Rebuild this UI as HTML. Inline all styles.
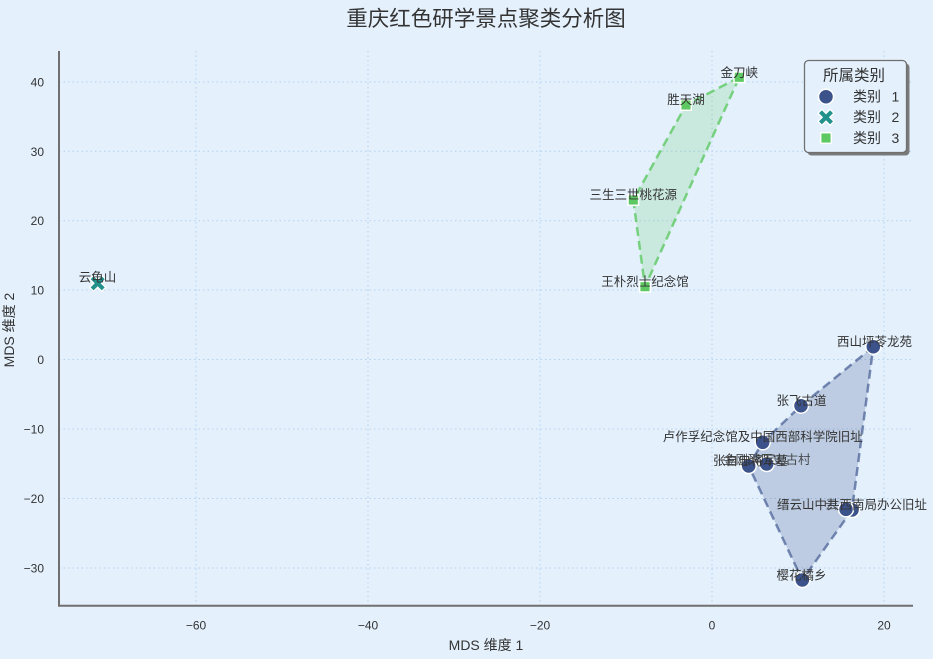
<!DOCTYPE html>
<html>
<head>
<meta charset="utf-8">
<style>
  html, body { margin:0; padding:0; background:#e4f1fd; }
  svg { display:block; }
  text { font-family: "Liberation Sans", "WenQuanYi Zen Hei", "Noto Sans CJK SC", sans-serif; fill:#333; }
  .wq { font-family: "WenQuanYi Zen Hei", "Liberation Sans", sans-serif; }
</style>
</head>
<body>
<svg width="933" height="659" viewBox="0 0 933 659" xmlns="http://www.w3.org/2000/svg">
  <rect x="0" y="0" width="933" height="659" fill="#e4f1fd"/>

  <!-- Title -->
  <text x="486" y="26" font-size="21.5" text-anchor="middle" fill="#333">重庆红色研学景点聚类分析图</text>

  <!-- Grid -->
  <g stroke="#b4d1ee" stroke-width="1" stroke-dasharray="1.5,3">
    <line x1="196" y1="51" x2="196" y2="606"/>
    <line x1="368" y1="51" x2="368" y2="606"/>
    <line x1="540" y1="51" x2="540" y2="606"/>
    <line x1="712" y1="51" x2="712" y2="606"/>
    <line x1="884" y1="51" x2="884" y2="606"/>
    <line x1="59" y1="82" x2="913" y2="82"/>
    <line x1="59" y1="151.3" x2="913" y2="151.3"/>
    <line x1="59" y1="220.7" x2="913" y2="220.7"/>
    <line x1="59" y1="290" x2="913" y2="290"/>
    <line x1="59" y1="359.5" x2="913" y2="359.5"/>
    <line x1="59" y1="429" x2="913" y2="429"/>
    <line x1="59" y1="498.5" x2="913" y2="498.5"/>
    <line x1="59" y1="568" x2="913" y2="568"/>
  </g>

  <!-- Spines -->
  <line x1="59" y1="51" x2="59" y2="606.5" stroke="#707070" stroke-width="2"/>
  <line x1="58" y1="605.7" x2="913" y2="605.7" stroke="#707070" stroke-width="2"/>

  <!-- Y tick labels -->
  <g font-size="12" text-anchor="end">
    <text x="44" y="86.5">40</text>
    <text x="44" y="155.8">30</text>
    <text x="44" y="225.2">20</text>
    <text x="44" y="294.5">10</text>
    <text x="44" y="364">0</text>
    <text x="44" y="433.5">−10</text>
    <text x="44" y="503">−20</text>
    <text x="44" y="572.5">−30</text>
  </g>
  <!-- X tick labels -->
  <g font-size="12" text-anchor="middle">
    <text x="196" y="629.5">−60</text>
    <text x="368" y="629.5">−40</text>
    <text x="540" y="629.5">−20</text>
    <text x="712" y="629.5">0</text>
    <text x="884" y="629.5">20</text>
  </g>

  <!-- Axis labels -->
  <text class="wq" x="486" y="650" font-size="14" text-anchor="middle">MDS 维度 1</text>
  <text class="wq" x="14" y="330" font-size="14" text-anchor="middle" transform="rotate(-90 14 330)">MDS 维度 2</text>

  <!-- Hulls -->
  <polygon points="873.3,346.7 801,405.7 762.7,442.3 748.7,466 802.3,580 852,510"
           fill="#3b528b" fill-opacity="0.23" stroke="#3b528b" stroke-opacity="0.65"
           stroke-width="2.5" stroke-dasharray="9,5" stroke-linejoin="round"/>
  <polygon points="739.3,77.3 686,105 633.3,200 645,286.7"
           fill="#5ec962" fill-opacity="0.2" stroke="#5ec962" stroke-opacity="0.8"
           stroke-width="2.5" stroke-dasharray="9,5" stroke-linejoin="round"/>

  <!-- Cluster 1 points -->
  <g fill="#3b528b" stroke="#ffffff" stroke-width="1.5">
    <circle cx="873.3" cy="346.7" r="7.5"/>
    <circle cx="801" cy="405.7" r="7.5"/>
    <circle cx="762.7" cy="442.3" r="7.5"/>
    <circle cx="748.7" cy="466" r="7.5"/>
    <circle cx="766.7" cy="464" r="7.5"/>
    <circle cx="852" cy="510" r="7.5"/>
    <circle cx="846" cy="509.3" r="7.5"/>
    <circle cx="802.3" cy="580" r="7.5"/>
  </g>

  <!-- Cluster 3 points -->
  <g fill="#5ec962" stroke="#ffffff" stroke-width="1.5">
    <rect x="734" y="72" width="10.6" height="10.6"/>
    <rect x="680.7" y="99.7" width="10.6" height="10.6"/>
    <rect x="628" y="194.7" width="10.6" height="10.6"/>
    <rect x="639.7" y="281.4" width="10.6" height="10.6"/>
  </g>

  <!-- Cluster 2 point (X) -->
  <path transform="translate(97.7 283.3) rotate(45)"
        d="M-2.7,-8.5 L2.7,-8.5 L2.7,-2.7 L8.5,-2.7 L8.5,2.7 L2.7,2.7 L2.7,8.5 L-2.7,8.5 L-2.7,2.7 L-8.5,2.7 L-8.5,-2.7 L-2.7,-2.7 Z"
        fill="#21918c" stroke="#ffffff" stroke-width="1.3"/>

  <!-- Labels -->
  <g font-size="12.5" text-anchor="middle" fill="#333">
    <text x="739.3" y="77">金刀峡</text>
    <text x="686" y="104">胜天湖</text>
    <text x="633.3" y="199">三生三世桃花源</text>
    <text x="645" y="286">王朴烈士纪念馆</text>
    <text x="97.5" y="281.5">云龟山</text>
    <text x="874.5" y="346">西山坪苓龙苑</text>
    <text x="801.5" y="405">张飞古道</text>
    <text x="762.7" y="441">卢作孚纪念馆及中国西部科学院旧址</text>
    <text x="801.5" y="579.5">樱花橘乡</text>
  </g>
  <g font-size="12.5" text-anchor="start" fill="#333">
    <text x="713" y="465">张自忠将军墓</text>
    <text x="723" y="464" fill-opacity="0.85">金刚碑历史古村</text>
    <text x="777" y="509">缙云山中共西南局办公旧址</text>
    <text x="825" y="509" fill-opacity="0.7">云</text>
  </g>

  <!-- Legend -->
  <rect x="807.5" y="63.5" width="102" height="92" rx="4" ry="4" fill="#7a7a7a"/>
  <rect x="804.5" y="60.5" width="102" height="92" rx="4" ry="4" fill="#e4f1fd" stroke="#707070" stroke-width="1.3"/>
  <text x="854" y="80.5" font-size="15.5" text-anchor="middle">所属类别</text>
  <circle cx="826" cy="96.7" r="7.5" fill="#3b528b" stroke="#ffffff" stroke-width="1.5"/>
  <path transform="translate(826 117.3) rotate(45)"
        d="M-2.7,-8.5 L2.7,-8.5 L2.7,-2.7 L8.5,-2.7 L8.5,2.7 L2.7,2.7 L2.7,8.5 L-2.7,8.5 L-2.7,2.7 L-8.5,2.7 L-8.5,-2.7 L-2.7,-2.7 Z"
        fill="#21918c" stroke="#ffffff" stroke-width="1.3"/>
  <rect x="820.7" y="132.7" width="10.6" height="10.6" fill="#5ec962" stroke="#ffffff" stroke-width="1.5"/>
  <g font-size="14">
    <text x="853" y="101.5">类别</text><text x="891.5" y="101.5">1</text>
    <text x="853" y="122">类别</text><text x="891.5" y="122">2</text>
    <text x="853" y="143">类别</text><text x="891.5" y="143">3</text>
  </g>
</svg>
</body>
</html>
